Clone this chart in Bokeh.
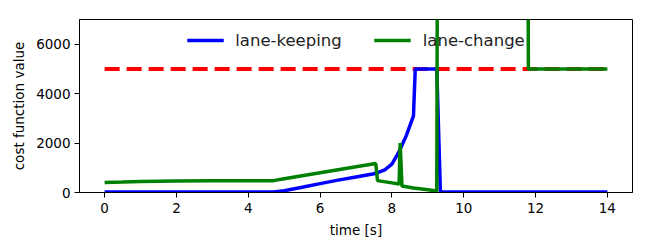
from bokeh.plotting import figure
from bokeh.models import Range1d, FixedTicker
from bokeh.embed import file_html
from bokeh.resources import INLINE

# ---- data ----
threshold_t = [0, 14]
threshold_v = [5000, 5000]

keep_t = [0, 1, 2, 3, 4, 4.7, 5.0, 5.5, 6.0, 6.5, 7.0, 7.5, 7.6, 7.8, 8.0, 8.2, 8.4, 8.6, 8.65, 9.25, 9.35, 10, 11, 12, 13, 14]
keep_v = [20, 20, 20, 20, 20, 20, 70, 210, 360, 500, 630, 760, 800, 920, 1150, 1650, 2300, 3100, 5000, 5000, 20, 20, 20, 20, 20, 20]

change_t = [0, 0.5, 1, 2, 3, 4, 4.7, 5.0, 5.5, 6.0, 6.5, 7.0, 7.55, 7.6, 8.0, 8.2, 8.23, 8.28, 8.6, 9.0, 9.25, 9.3, 11.75, 11.8, 12, 13, 14]
change_v = [400, 420, 450, 470, 475, 475, 480, 560, 680, 800, 920, 1040, 1170, 480, 390, 340, 2000, 260, 180, 110, 60, 30000, 30000, 5000, 5000, 5000, 5000]

x_ticks = [0, 2, 4, 6, 8, 10, 12, 14]
y_ticks = [0, 2000, 4000, 6000]

FONT = "DejaVu Sans"

p = figure(width=642, height=242, output_backend="svg", toolbar_location=None,
           x_range=Range1d(-0.7, 14.7), y_range=Range1d(0, 7000),
           min_border_left=79, min_border_right=10, min_border_top=19, min_border_bottom=50)

p.line(threshold_t, threshold_v, line_color="#ff0000", line_width=4, line_dash="15 7")
p.line(keep_t, keep_v, line_color="#0000ff", line_width=3.5, legend_label="lane-keeping")
p.line(change_t, change_v, line_color="#008000", line_width=3.5, legend_label="lane-change")

p.xgrid.visible = False
p.ygrid.visible = False
p.outline_line_color = "black"
p.outline_line_width = 1
p.background_fill_color = "white"
p.border_fill_color = "white"

p.xaxis.ticker = FixedTicker(ticks=x_ticks)
p.yaxis.ticker = FixedTicker(ticks=y_ticks)
p.xaxis.axis_label = "time [s]"
p.yaxis.axis_label = "cost function value"
for ax in (p.xaxis, p.yaxis):
    ax.axis_line_color = "black"
    ax.major_tick_line_color = "black"
    ax.major_tick_out = 5
    ax.major_tick_in = 0
    ax.minor_tick_line_color = None
    ax.major_label_text_font = FONT
    ax.major_label_text_font_size = "13.5px"
    ax.major_label_text_color = "black"
    ax.axis_label_text_font = FONT
    ax.axis_label_text_font_size = "13.5px"
    ax.axis_label_text_font_style = "normal"
    ax.axis_label_text_color = "black"
p.xaxis.major_label_standoff = 5
p.xaxis.axis_label_standoff = 6
p.yaxis.major_label_standoff = 4
p.yaxis.axis_label_standoff = 6

lg = p.legend[0]
lg.location = "top_center"
lg.orientation = "horizontal"
lg.border_line_color = None
lg.background_fill_alpha = 0
lg.label_text_font = FONT
lg.label_text_font_size = "16.5px"
lg.label_text_color = "#222222"
lg.glyph_width = 37
lg.label_standoff = 12
lg.spacing = 32
lg.margin = 11
lg.padding = 10
lg.label_height = 20
lg.glyph_height = 20

open("out.html", "w").write(file_html(p, INLINE))
